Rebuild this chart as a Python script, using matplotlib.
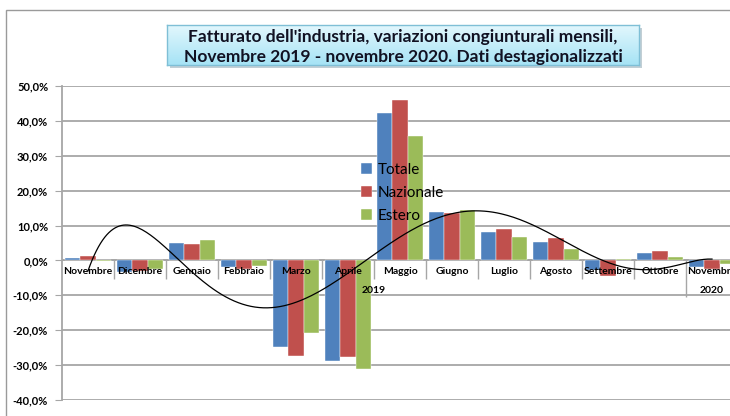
import numpy as np
import matplotlib
matplotlib.use('Agg')
import matplotlib.pyplot as plt
from matplotlib.patches import Rectangle
from matplotlib.colors import LinearSegmentedColormap
from matplotlib.ticker import FuncFormatter

# ─── Data ────────────────────────────────────────────────────────────────────
months = ['Novembre', 'Dicembre', 'Gennaio', 'Febbraio', 'Marzo', 'Aprile',
          'Maggio', 'Giugno', 'Luglio', 'Agosto', 'Settembre', 'Ottobre',
          'Novembre']
years = ['2019', '2020']
totale = [0.7, -3.2, 5.1, -2.0, -24.9, -28.9, 42.3, 13.8, 8.2, 5.4, -2.7, 2.2, -1.9]
nazionale = [1.3, -3.0, 4.6, -2.4, -27.3, -27.7, 46.1, 13.5, 8.9, 6.4, -4.4, 2.7, -2.5]
estero = [-0.3, -2.5, 6.0, -1.6, -20.8, -31.1, 35.6, 14.4, 6.6, 3.2, 0.4, 1.0, -1.0]
# black smoothed trend curve, value read at each month
trend = [-3.0, 9.2, -3.5, -12.5, -11.8, -4.1, 7.0, 13.5, 13.0, 6.8, -0.5, -2.4, 0.4]
series_names = ['Totale', 'Nazionale', 'Estero']
colors = ['#4F81BD', '#C0504D', '#9BBB59']

FONT = 'Lato'
GRID = '#A6A6A6'

fig = plt.figure(figsize=(7.3, 4.16), dpi=100)
ax = fig.add_axes([62 / 730, 1 - 400 / 416, 676 / 730, 314 / 416])

x = np.arange(len(months))
bw = 0.29
for k, (vals, name, col) in enumerate(zip([totale, nazionale, estero], series_names, colors)):
    ax.bar(x + (k - 1) * bw, vals, width=bw, color=col, label=name,
           edgecolor='white', linewidth=0.3, zorder=2)

# smooth polynomial trendline through the trend values
coef = np.polyfit(x, trend, 8)
xs = np.linspace(0, len(months) - 1, 300)
ax.plot(xs, np.polyval(coef, xs), color='black', linewidth=0.9, zorder=3)

ax.set_xlim(-0.5, len(months) - 0.5)
ax.set_ylim(-40, 50)
ax.set_yticks(np.arange(-40, 51, 10))
ax.yaxis.set_major_formatter(FuncFormatter(lambda v, p: f"{v:.1f}%".replace('.', ',')))
ax.tick_params(axis='y', length=5, color=GRID, labelsize=8, pad=5)
for lab in ax.get_yticklabels():
    lab.set_fontweight('bold')
    lab.set_family(FONT)
ax.set_xticks([])
ax.grid(axis='y', color=GRID, linewidth=1.3, zorder=0)
ax.set_axisbelow(True)
for side in ['top', 'right', 'bottom']:
    ax.spines[side].set_visible(False)
ax.spines['left'].set_color(GRID)
ax.spines['left'].set_linewidth(1.3)
ax.axhline(0, color=GRID, linewidth=1.3, zorder=1)

# category labels inside the plot, with separators
for i, m in enumerate(months):
    ax.text(i, -3.1, m, ha='center', va='center', fontsize=7.5, fontweight='bold',
            family=FONT, zorder=4)
ax.vlines(x[:-2] + 0.5, -5.2, 0, color=GRID, linewidth=1.0, zorder=1)
ax.vlines(x[-2] + 0.5, -10.4, 0, color=GRID, linewidth=1.0, zorder=1)
ax.text((len(months) - 2) / 2, -8.5, years[0], ha='center', va='center', fontsize=7.5,
        fontweight='bold', family=FONT, zorder=4)
ax.text(len(months) - 1, -8.6, years[1], ha='center', va='center', fontsize=7.5,
        fontweight='bold', family=FONT, zorder=4)

ax.legend(loc='upper left', bbox_to_anchor=(0.422, 0.80), frameon=False,
          handlelength=0.7, handleheight=0.7, handletextpad=0.4, labelspacing=0.6,
          prop={'family': FONT, 'size': 11})

# outer chart frame
fig.add_artist(Rectangle((6 / 730, -0.05), 1.1, 1.05 - 10 / 416, transform=fig.transFigure,
                         fill=False, edgecolor='#9A9A9A', linewidth=1.0, zorder=-1))

# title box with shadow and vertical gradient
fig.add_artist(Rectangle((170 / 730, 1 - 68 / 416), 472 / 730, 40 / 416,
                         transform=fig.transFigure, facecolor='#C2CFD5',
                         edgecolor='none', zorder=-1))
tax = fig.add_axes([167 / 730, 1 - 65 / 416, 472 / 730, 40 / 416])
tax.set_zorder(3)
grad_cmap = LinearSegmentedColormap.from_list('tbox', ['#E2F7FD', '#A6E3F5'])
tax.imshow(np.linspace(0, 1, 64).reshape(-1, 1), aspect='auto', cmap=grad_cmap,
           extent=(0, 1, 0, 1))
tax.set_xticks([])
tax.set_yticks([])
for sp in tax.spines.values():
    sp.set_color('#7FBFD6')
    sp.set_linewidth(1.0)
tax.text(0.5, 0.45,
         "Fatturato dell'industria, variazioni congiunturali mensili,\n"
         "Novembre 2019 - novembre 2020. Dati destagionalizzati",
         ha='center', va='center', fontsize=12.5, fontweight='bold', family=FONT,
         color='#111122', linespacing=1.3, transform=tax.transAxes)

plt.savefig('out.png', dpi=100)
plt.close()
